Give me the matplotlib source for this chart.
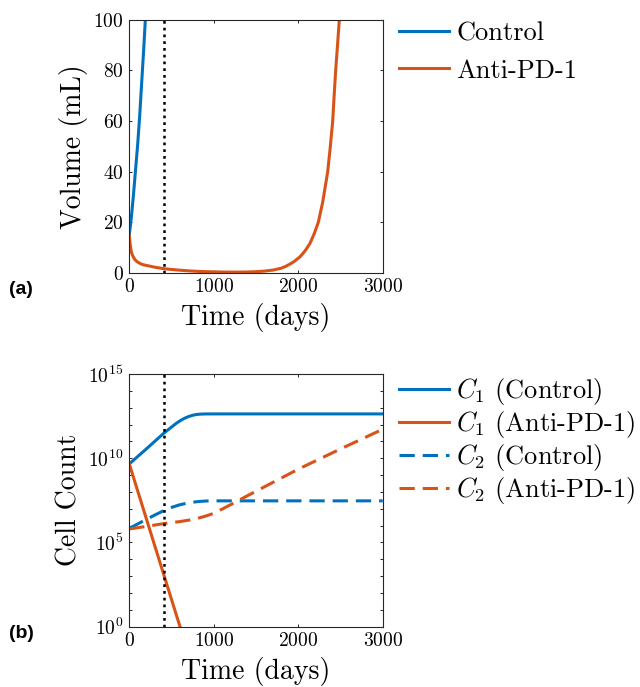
import numpy as np
import matplotlib
matplotlib.use("Agg")
from matplotlib import pyplot as plt
from matplotlib.ticker import FixedLocator, NullFormatter, LogFormatterMathtext

plt.rcParams["font.family"] = "cmr10"
plt.rcParams["mathtext.fontset"] = "cm"
plt.rcParams["axes.formatter.use_mathtext"] = True

blue = "#0072BD"
orange = "#D95319"

# treatment start (dotted line)
tStart = 410

# volume (mL)
tVolCtrl = [0, 25, 50, 75, 100, 125, 150, 170, 190]
volCtrl = [15, 22, 31, 41, 51, 63, 77, 88, 100]
tVolPD1 = [0, 5, 10, 20, 30, 47, 60, 75, 100, 126, 150, 200, 245, 300, 410, 500, 600, 700, 837,
           1000, 1100, 1200, 1300, 1400, 1500, 1600, 1700, 1800, 1850, 1900, 1950, 2021, 2080,
           2139, 2190, 2238, 2290, 2349, 2380, 2408, 2425, 2443, 2465, 2486]
volPD1 = [15, 13, 11.5, 9, 7.6, 6.3, 5.5, 4.9, 4.2, 3.7, 3.3, 2.9, 2.6, 2.2, 1.6, 1.3, 1.0, 0.75, 0.5,
          0.35, 0.28, 0.25, 0.26, 0.3, 0.42, 0.65, 1.05, 1.8, 2.5, 3.4, 4.4, 6.3, 8.6,
          11.6, 15.5, 20, 28, 40, 50, 60, 70, 80, 90, 100]

# cell counts
tC1Ctrl = [0, 200, 410, 500, 550, 600, 650, 700, 750, 800, 850, 900, 1000, 3000]
c1Ctrl = [4.6e9, 3.5e10, 3.1e11, 7.1e11, 1.12e12, 1.66e12, 2.3e12, 2.95e12, 3.55e12, 3.98e12,
          4.17e12, 4.25e12, 4.27e12, 4.27e12]
tC1PD1 = [0, 410, 650]
c1PD1 = [4.6e9, 1.15e3, 0.16]
tC2Ctrl = [0, 100, 200, 300, 410, 500, 600, 700, 800, 900, 1000, 3000]
c2Ctrl = [6.9e5, 1.26e6, 2.3e6, 4.2e6, 7.8e6, 1.2e7, 1.74e7, 2.24e7, 2.63e7, 2.88e7, 2.95e7, 2.95e7]
tC2PD1 = [0, 200, 410, 600, 700, 800, 900, 1000, 1100, 1232, 1400, 1500, 2000, 2500, 3000]
c2PD1 = [6.3e5, 8.9e5, 1.32e6, 1.74e6, 2.09e6, 2.63e6, 3.63e6, 5.37e6, 9.55e6, 2.14e7, 6.0e7,
         1.1e8, 2.24e9, 3.55e10, 5.25e11]

fig = plt.figure(figsize=(6.4, 6.87), dpi=100)
ax1 = fig.add_axes([0.202, 0.603, 0.396, 0.368])
ax2 = fig.add_axes([0.202, 0.0878, 0.396, 0.3678])

lw = 2.2
ax1.plot(tVolCtrl, volCtrl, color=blue, lw=lw, label="Control")
ax1.plot(tVolPD1, volPD1, color=orange, lw=lw, label="Anti-PD-1")
ax1.axvline(tStart, color="k", lw=1.8, dashes=(1.1, 1.6))
ax1.set_xlim(0, 3000)
ax1.set_ylim(0, 100)
ax1.set_xticks([0, 1000, 2000, 3000])
ax1.set_yticks([0, 20, 40, 60, 80, 100])
ax1.set_xlabel("Time (days)", fontsize=20, labelpad=5)
ax1.set_ylabel("Volume (mL)", fontsize=20)
ax1.legend(loc="upper left", bbox_to_anchor=(0.624, 0.968), bbox_transform=fig.transFigure,
           frameon=False, fontsize=19, handlelength=1.9, handletextpad=0.25,
           labelspacing=0.5, borderpad=0, borderaxespad=0)

ax2.plot(tC1Ctrl, c1Ctrl, color=blue, lw=lw, label=r"$C_1$ (Control)")
ax2.plot(tC1PD1, c1PD1, color=orange, lw=lw, label=r"$C_1$ (Anti-PD-1)")
ax2.plot(tC2Ctrl, c2Ctrl, color=blue, lw=lw, dashes=(5, 2.6), label=r"$C_2$ (Control)")
ax2.plot(tC2PD1, c2PD1, color=orange, lw=lw, dashes=(5, 2.6), label=r"$C_2$ (Anti-PD-1)")
ax2.axvline(tStart, color="k", lw=1.8, dashes=(1.1, 1.6))
ax2.set_yscale("log")
ax2.set_xlim(0, 3000)
ax2.set_ylim(1, 1e15)
ax2.set_xticks([0, 1000, 2000, 3000])
ax2.yaxis.set_major_locator(FixedLocator([1, 1e5, 1e10, 1e15]))
ax2.yaxis.set_major_formatter(LogFormatterMathtext())
ax2.yaxis.set_minor_locator(FixedLocator(10.0 ** np.arange(16)))
ax2.yaxis.set_minor_formatter(NullFormatter())
ax2.set_xlabel("Time (days)", fontsize=20, labelpad=5)
ax2.set_ylabel("Cell Count", fontsize=20)
ax2.legend(loc="upper left", bbox_to_anchor=(0.624, 0.452), bbox_transform=fig.transFigure,
           frameon=False, fontsize=19, handlelength=1.9, handletextpad=0.25,
           labelspacing=0.07, borderpad=0, borderaxespad=0)

for ax in (ax1, ax2):
    for s in ax.spines.values():
        s.set_color("#262626")
        s.set_linewidth(0.8)
    ax.tick_params(which="both", direction="in", top=True, right=True, length=2.5,
                   width=0.7, color="#262626", labelsize=14, pad=4)

fig.text(0.014, 0.578, "(a)", fontsize=14, fontweight="bold", family="Liberation Sans", va="center")
fig.text(0.014, 0.078, "(b)", fontsize=14, fontweight="bold", family="Liberation Sans", va="center")

fig.savefig("out.png", dpi=100)
